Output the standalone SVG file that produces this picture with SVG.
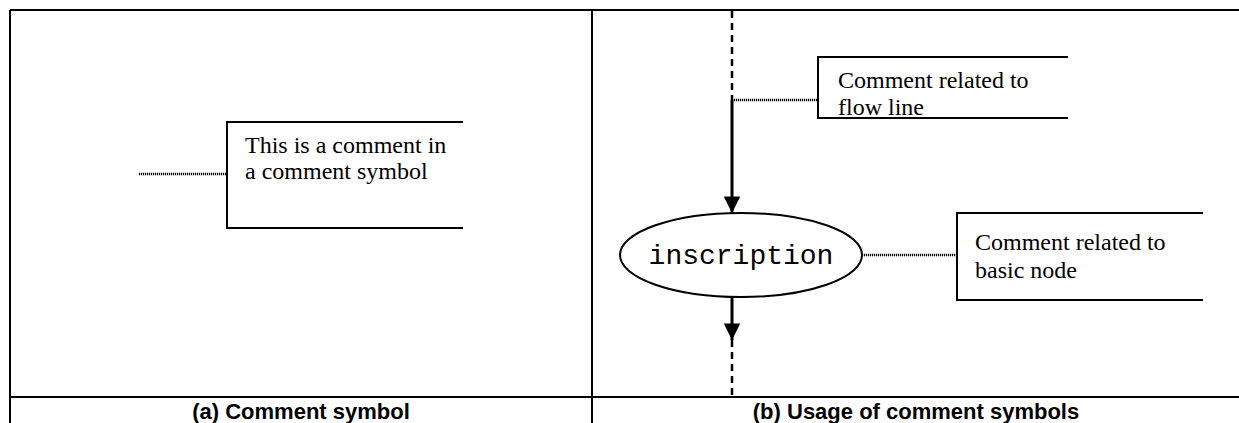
<svg xmlns="http://www.w3.org/2000/svg" width="1239" height="423" viewBox="0 0 1239 423">
<defs>
<style>
.frame{stroke:#000;stroke-width:2;fill:none}
.box{stroke:#000;stroke-width:2;fill:none}
.dot{stroke:#000;stroke-width:2.5;stroke-dasharray:1.2 0.8;fill:none}
.flow{stroke:#000;stroke-width:3;fill:none}
.dash{stroke:#000;stroke-width:2.5;stroke-dasharray:7 5;fill:none}
.t{font-family:"Liberation Serif","Times New Roman",serif;font-size:24px;fill:#000}
.mono{font-family:"Liberation Mono","Courier New",monospace;font-size:28px;fill:#000}
.cap{font-family:"Liberation Sans",Arial,sans-serif;font-size:22px;font-weight:bold;fill:#000}
</style>
<marker id="ah" viewBox="0 0 10 10" refX="10" refY="5" markerWidth="6" markerHeight="5.5" markerUnits="strokeWidth" orient="auto">
<path d="M0,0 L10,5 L0,10 z" fill="#000"/>
</marker>
</defs>
<rect width="1239" height="423" fill="#fff"/>
<g id="frame">
<line class="frame" x1="10" y1="10" x2="1239" y2="10"/>
<line class="frame" x1="10" y1="10" x2="10" y2="423"/>
<line class="frame" x1="592" y1="10" x2="592" y2="423"/>
<line class="frame" x1="10" y1="397" x2="1239" y2="397"/>
<text class="cap" x="301" y="419" text-anchor="middle">(a) Comment symbol</text>
<text class="cap" x="916" y="419" text-anchor="middle">(b) Usage of comment symbols</text>
</g>
<g id="comment-a">
<path class="box" d="M463,122 H227 V228 H463"/>
<text class="t" x="245" y="153">This is a comment in</text>
<text class="t" x="245" y="179">a comment symbol</text>
</g>
<g id="comment-flow">
<path class="box" d="M1068,57 H818 V118 H1068"/>
<text class="t" x="838" y="88">Comment related to</text>
<text class="t" x="838" y="115">flow line</text>
</g>
<g id="inscription">
<ellipse class="box" cx="741" cy="255" rx="121" ry="42"/>
<text class="mono" x="741" y="264" text-anchor="middle">inscription</text>
</g>
<g id="comment-node">
<path class="box" d="M1203,213 H957 V300 H1203"/>
<text class="t" x="975" y="250">Comment related to</text>
<text class="t" x="975" y="278">basic node</text>
</g>
<g id="connectors">
<line class="dot" x1="139" y1="174" x2="227" y2="174"/>
<line class="dash" x1="732" y1="11" x2="732" y2="100"/>
<line class="dot" x1="732" y1="100" x2="818" y2="100"/>
<line class="flow" x1="732" y1="100" x2="732" y2="213" marker-end="url(#ah)"/>
<line class="dot" x1="862" y1="255" x2="957" y2="255"/>
<line class="flow" x1="732" y1="297" x2="732" y2="340" marker-end="url(#ah)"/>
<line class="dash" x1="732" y1="340" x2="732" y2="396"/>
</g>
</svg>
